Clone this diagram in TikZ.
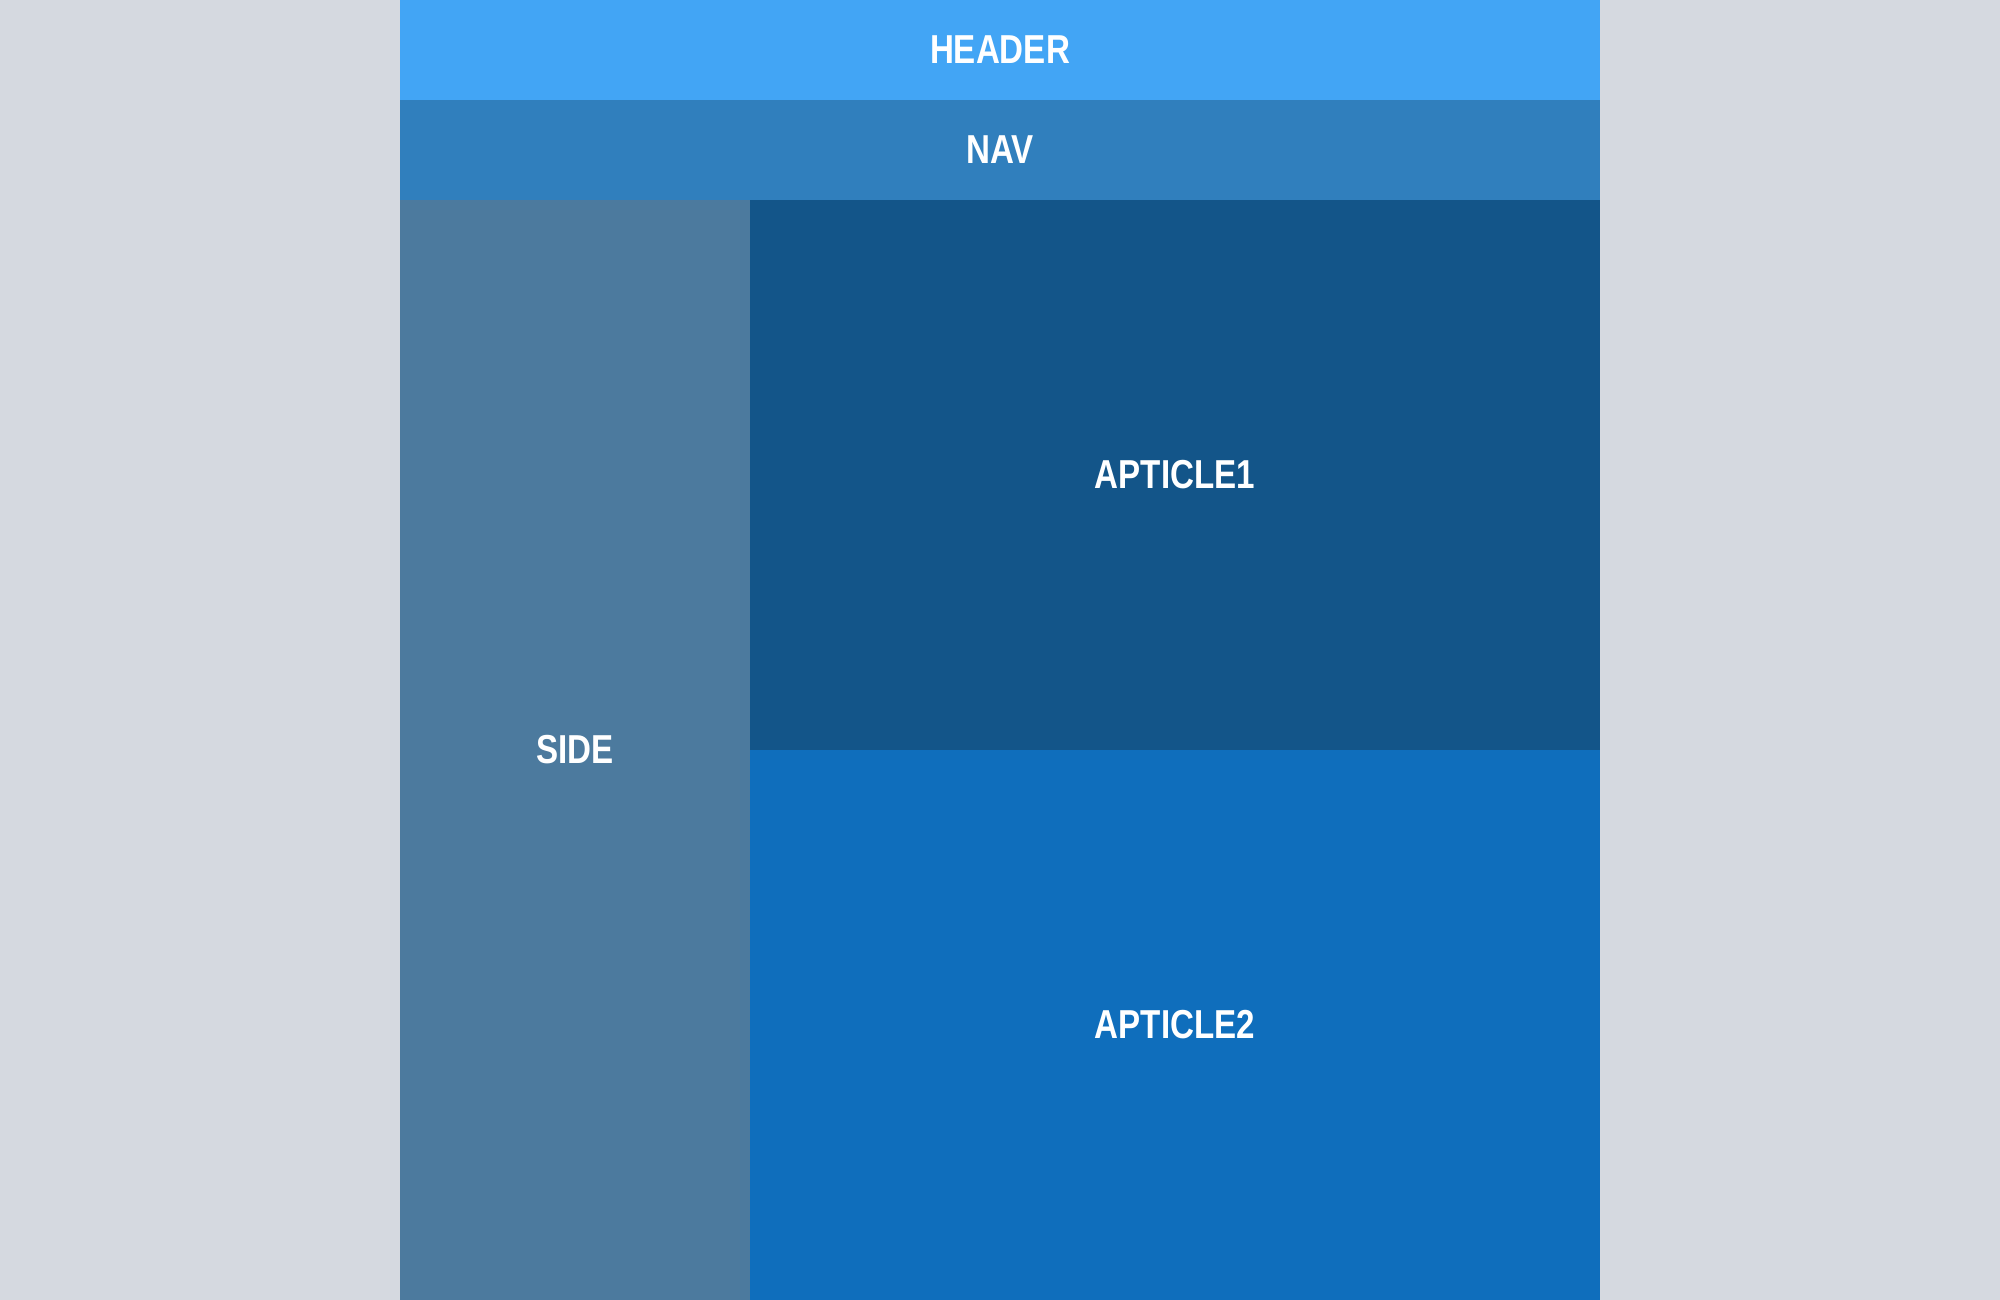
\documentclass[tikz,border=0pt]{standalone}
\usepackage{fontspec}
\setmainfont{Liberation Sans}
\newfontfamily\labelfont[FakeStretch=0.82]{Liberation Sans Bold}
\usepackage{xcolor}
\usepackage{tikz}
\usetikzlibrary{positioning,backgrounds}
\definecolor{pagegrey}{HTML}{D5D9E0}
\definecolor{headblue}{HTML}{42A5F5}
\definecolor{navblue}{HTML}{307FBD}
\definecolor{sideblue}{HTML}{4C7A9E}
\definecolor{artdark}{HTML}{135589}
\definecolor{artmid}{HTML}{0F6EBC}

\begin{document}
\begin{tikzpicture}[
    every node/.style={font=\labelfont\fontsize{11.5}{13}\selectfont, text=white, align=center},
    block/.style={
      fill=#1, draw=none, inner sep=0pt, outer sep=0pt,
      rectangle
    }
  ]

  % ---------- fond de page -------------
  \fill[pagegrey] (0,0) rectangle (20,13);
  \useasboundingbox (0,0) rectangle (20,13);

  % ---------- bandeaux du haut -------------
  \node[block=headblue, minimum width=12cm, minimum height=1cm] (header) at (10,12.5) {HEADER};
  \node[block=navblue, minimum width=12cm, minimum height=1cm, below=0cm of header] (nav) {NAV};

  % ---------- colonne laterale et articles -------------
  \node[block=sideblue, minimum width=3.5cm, minimum height=11cm] (side) at (5.75,5.5) {SIDE};
  \node[block=artdark, minimum width=8.5cm, minimum height=5.5cm] (art1) at (11.75,8.25) {APTICLE1};
  \node[block=artmid, minimum width=8.5cm, minimum height=5.5cm, below=0cm of art1] (art2) {APTICLE2};

\end{tikzpicture}
\end{document}
